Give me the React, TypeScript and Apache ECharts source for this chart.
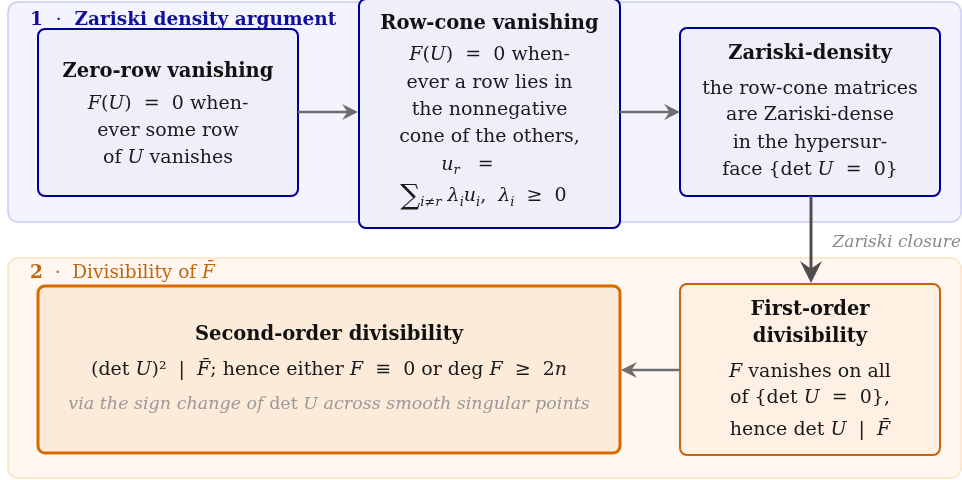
import React, { useEffect, useRef } from "react";
import * as echarts from "echarts";

const FONT = '"DejaVu Serif", "Liberation Serif", serif';

const groupTitles = [
  "{n|1}  {d|·}  Zariski density argument",
  "{n|2}  {d|·}  Divisibility of {i|F\u0304}",
];

const nodeTitles = [
  ["Zero-row vanishing"],
  ["Row-cone vanishing"],
  ["Zariski-density"],
  ["First-order", "divisibility"],
  ["Second-order divisibility"],
];

const nodeBodies = [
  ["{i|F}({i|U})  =  0 when-", "ever some row", "of {i|U} vanishes"],
  [
    "{i|F}({i|U})  =  0 when-",
    "ever a row lies in",
    "the nonnegative",
    "cone of the others,",
    "{i|u}{sub|r}   =",
    "{big|∑}{sub|i≠r} {i|λ}{sub|i}{i|u}{sub|i},  {i|λ}{sub|i}  ≥  0",
  ],
  ["the row-cone matrices", "are Zariski-dense", "in the hypersur-", "face {det {i|U}  =  0}"],
  ["{i|F} vanishes on all", "of {det {i|U}  =  0},", "hence det {i|U}  |  {i|F\u0304}"],
  ["(det {i|U})²  |  {i|F\u0304}; hence either {i|F}  ≡  0 or deg {i|F}  ≥  2{i|n}"],
];

const nodeNotes = ["", "", "", "", "via the sign change of {r|det} {i|U} across smooth singular points"];

const edgeLabels = ["Zariski closure"];

function richFor(fs: number, fill: string) {
  return {
    i: { fontStyle: "italic", fontSize: fs, fontFamily: FONT, fill },
    r: { fontStyle: "normal", fontSize: fs, fontFamily: FONT, fill },
    sub: { fontStyle: "italic", fontSize: Math.round(fs * 0.68), fontFamily: FONT, fill, verticalAlign: "bottom", lineHeight: fs + 6 },
    big: { fontSize: Math.round(fs * 1.45), fontFamily: FONT, fill, fontStyle: "normal" },
    n: { fontWeight: "bold", fontSize: fs, fontFamily: FONT, fill },
    d: { fontWeight: "normal", fontSize: fs, fontFamily: FONT, fill },
  };
}

function txt(x: number, y: number, text: string, o: any = {}) {
  const fs = o.fontSize ?? 19;
  const fill = o.fill ?? "#1a1a1a";
  return {
    type: "text",
    x,
    y,
    z: 20,
    style: {
      text,
      align: o.align ?? "center",
      verticalAlign: "middle",
      fontSize: fs,
      fontFamily: FONT,
      fontWeight: o.fontWeight ?? "normal",
      fontStyle: o.fontStyle ?? "normal",
      fill,
      rich: richFor(fs, fill),
    },
  };
}

function arrowHead(tx: number, ty: number, dir: "right" | "left" | "down", color: string, len: number, half: number) {
  let pts: number[][] = [];
  const notch = len * 0.35;
  if (dir === "right") pts = [[tx, ty], [tx - len, ty - half], [tx - len + notch, ty], [tx - len, ty + half]];
  if (dir === "left") pts = [[tx, ty], [tx + len, ty - half], [tx + len - notch, ty], [tx + len, ty + half]];
  if (dir === "down") pts = [[tx, ty], [tx - half, ty - len], [tx, ty - len + notch], [tx + half, ty - len]];
  return { type: "polygon", z: 15, shape: { points: pts }, style: { fill: color } };
}

export default function App() {
  const ref = useRef<HTMLDivElement>(null);
  useEffect(() => {
    if (!ref.current) return;
    const chart = echarts.init(ref.current, undefined, { renderer: "svg" });
    const ORANGE = "#c8650a";
    const els: any[] = [];
    // group backgrounds
    els.push({ type: "rect", z: 1, shape: { x: 8, y: 2, width: 953, height: 220, r: 10 }, style: { fill: "#f4f4fe", stroke: "#cacaf6", lineWidth: 1.5 } });
    els.push({ type: "rect", z: 1, shape: { x: 8, y: 258, width: 953, height: 220, r: 10 }, style: { fill: "#fff7f0", stroke: "#fde2c6", lineWidth: 1.5 } });
    els.push(txt(30, 18, groupTitles[0], { fontSize: 18.5, fontWeight: "bold", fill: "#10109a", align: "left" }));
    els.push(txt(30, 271, groupTitles[1], { fontSize: 18.5, fill: "#c0640e", align: "left" }));

    // boxes
    const boxes = [
      { x: 38, y: 29, w: 260, h: 167, stroke: "#000090", fill: "#efeffc", lw: 2 },
      { x: 359, y: -1, w: 261, h: 229, stroke: "#000090", fill: "#efeffc", lw: 2 },
      { x: 680, y: 28, w: 260, h: 168, stroke: "#000090", fill: "#efeffc", lw: 2 },
      { x: 680, y: 284, w: 260, h: 171, stroke: ORANGE, fill: "#fef1e3", lw: 2 },
      { x: 38, y: 286, w: 582, h: 167, stroke: "#da6a00", fill: "#fdebd9", lw: 3 },
    ];
    boxes.forEach((b) => {
      els.push({ type: "rect", z: 10, shape: { x: b.x, y: b.y, width: b.w, height: b.h, r: 7 }, style: { fill: b.fill, stroke: b.stroke, lineWidth: b.lw } });
    });

    const titleYs = [[70], [22], [52], [308, 335], [333]];
    const bodyYs = [
      [102, 129, 156],
      [53, 81, 108, 135, 163, 194],
      [87, 113, 141, 168],
      [370, 396, 428],
      [368],
    ];
    const bodyDx: number[][] = [[], [0, 0, 0, 0, -22, -6], [], [], []];
    const noteYs = [0, 0, 0, 0, 403];
    boxes.forEach((b, k) => {
      const cx = b.x + b.w / 2;
      nodeTitles[k].forEach((t, j) => els.push(txt(cx, titleYs[k][j], t, { fontSize: 19.5, fontWeight: "bold", fill: "#111" })));
      nodeBodies[k].forEach((t, j) => els.push(txt(cx + (bodyDx[k][j] || 0), bodyYs[k][j], t, { fontSize: 19, fill: "#1a1a1a" })));
      if (nodeNotes[k]) els.push(txt(cx, noteYs[k], nodeNotes[k], { fontSize: 17.5, fontStyle: "italic", fill: "#9a9a9a" }));
    });

    // arrows
    const G = "#6e6e6e";
    els.push({ type: "line", z: 12, shape: { x1: 298, y1: 112, x2: 352, y2: 112 }, style: { stroke: G, lineWidth: 2.5 } });
    els.push(arrowHead(358, 112, "right", G, 16, 8));
    els.push({ type: "line", z: 12, shape: { x1: 620, y1: 112, x2: 673, y2: 112 }, style: { stroke: G, lineWidth: 2.5 } });
    els.push(arrowHead(680, 112, "right", G, 16, 8));
    const D = "#4e4e4e";
    els.push({ type: "line", z: 12, shape: { x1: 811, y1: 196, x2: 811, y2: 276 }, style: { stroke: D, lineWidth: 3 } });
    els.push(arrowHead(811, 283, "down", D, 22, 11));
    els.push({ type: "line", z: 12, shape: { x1: 680, y1: 370, x2: 628, y2: 370 }, style: { stroke: G, lineWidth: 2.5 } });
    els.push(arrowHead(621, 370, "left", G, 16, 8));
    els.push(txt(961, 241, edgeLabels[0], { fontSize: 17, fontStyle: "italic", fill: "#8a8a8a", align: "right" }));

    chart.setOption({ animation: false, graphic: { elements: els } });
    return () => chart.dispose();
  }, []);
  return <div ref={ref} style={{ position: "fixed", left: 0, top: 0, width: 962, height: 480 }} />;
}
